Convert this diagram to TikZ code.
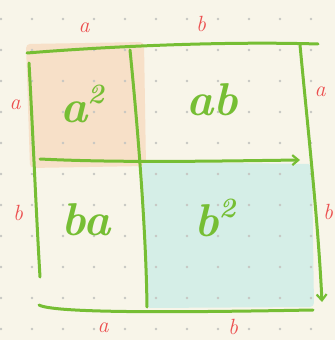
\documentclass[tikz,border=0pt]{standalone}
\usetikzlibrary{arrows.meta}
\definecolor{bgc}{RGB}{248,245,233}
\definecolor{dotc}{RGB}{198,198,194}
\definecolor{pen}{RGB}{118,190,52}
\definecolor{peach}{RGB}{247,224,200}
\definecolor{mint}{RGB}{213,238,231}
\definecolor{redpen}{RGB}{236,80,80}
\tikzset{
  penline/.style={draw=pen, line width=3pt, line cap=round, line join=round},
  penarrow/.style={penline, -{Straight Barb[length=6pt,width=10pt,line width=2.2pt]}},
  sidelbl/.style={text=redpen, font=\itshape\fontsize{22}{22}\selectfont, inner sep=0pt},
  arealbl/.style={text=pen, font=\bfseries\itshape\fontsize{46}{46}\selectfont, inner sep=0pt},
}
\newcommand{\supsq}{\raisebox{0.42em}{\fontsize{28}{28}\selectfont 2}}
\begin{document}
\begin{tikzpicture}[x=1pt,y=-1pt]
\useasboundingbox (0,0) rectangle (335,340);
\fill[bgc] (0,0) rectangle (335,340);
% fills
\fill[peach, rounded corners=4pt] (26,44) -- (144,42) -- (146,166) -- (30,168) -- cycle;
\fill[mint, rounded corners=4pt] (142,162) -- (312,164) -- (314,307) -- (146,308) -- cycle;
% dot grid
\foreach \i in {0,...,10}{\foreach \j in {0,...,10}{
  \fill[dotc] ({1+31*\i},{19+31*\j}) circle (1.4);}}
% coordinates
\coordinate (tl) at (27,53);
\coordinate (tr) at (318,44);
\coordinate (lt) at (29,63);
\coordinate (lb) at (40,277);
\coordinate (mt) at (130,50);
\coordinate (mb) at (147,307);
\coordinate (hl) at (40,159);
\coordinate (hr) at (300,160);
\coordinate (rt) at (300,45);
\coordinate (rb) at (322,302);
\coordinate (bl) at (39,305);
\coordinate (br) at (313,310);
% lines
\draw[penline] (tl) .. controls (100,47) and (220,41) .. (tr);
\draw[penline] (lt) .. controls (33,135) and (36,210) .. (lb);
\draw[penline] (mt) .. controls (138,130) and (146,230) .. (mb);
\draw[penarrow] (hl) .. controls (120,163) and (220,161) .. (hr);
\draw[penarrow] (rt) .. controls (308,130) and (318,220) .. (rb);
\draw[penline] (bl) .. controls (55,314) and (200,312) .. (br);
% side labels
\node[sidelbl] (ta) at (84,28) {a};
\node[sidelbl] (tb) at (201,24) {b};
\node[sidelbl] (la) at (15,105) {a};
\node[sidelbl] (ra) at (320,92) {a};
\node[sidelbl] (lb2) at (18,213) {b};
\node[sidelbl] (rb2) at (328,212) {b};
\node[sidelbl] (ba) at (103,328) {a};
\node[sidelbl] (bb) at (233,327) {b};
% area labels
\node[arealbl] (a2) at (82,104) {a\supsq};
\node[arealbl] (ab) at (212,100) {ab};
\node[arealbl] (bal) at (86,220) {ba};
\node[arealbl] (b2) at (215,218) {b\supsq};
\end{tikzpicture}
\end{document}
